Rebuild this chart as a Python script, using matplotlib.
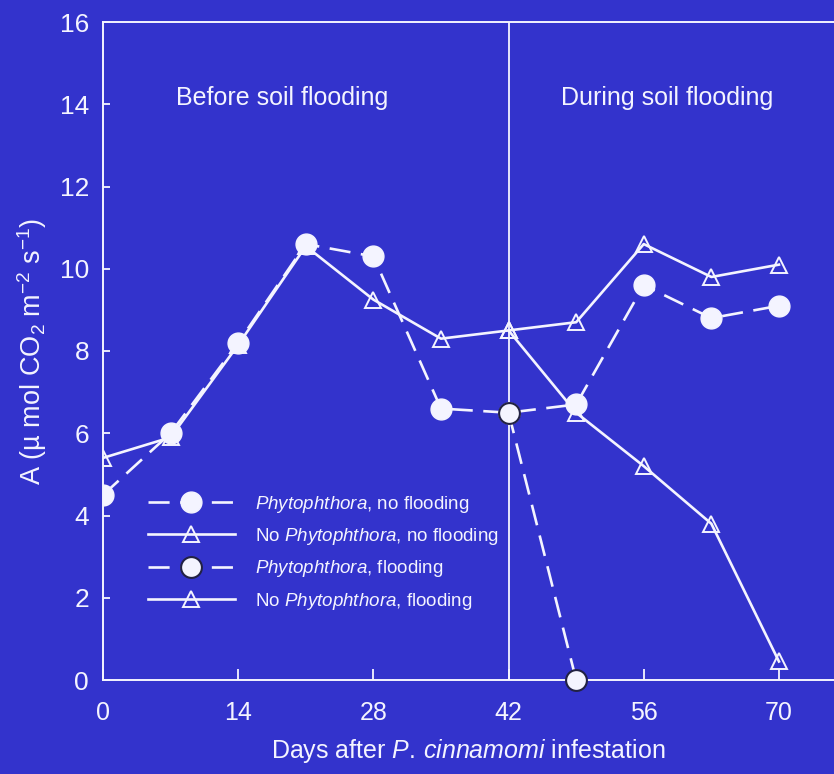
import matplotlib
matplotlib.use("Agg")
import matplotlib.pyplot as plt

# Net photosynthesis (A) over time, sampled weekly
days = [0, 7, 14, 21, 28, 35, 42, 49, 56, 63, 70]
phyto_noflood = [4.5, 6.0, 8.2, 10.6, 10.3, 6.6, 6.5, 6.7, 9.6, 8.8, 9.1]
nophyto_noflood = [5.4, 5.9, 8.15, 10.55, 9.25, 8.3, 8.5, 8.7, 10.6, 9.8, 10.1]

flood_days = [42, 49, 56, 63, 70]
phyto_flood = [6.5, 0.0]
nophyto_flood = [8.5, 6.5, 5.2, 3.8, 0.45]

xticks = [0, 14, 28, 42, 56, 70]
yticks = [0, 2, 4, 6, 8, 10, 12, 14, 16]

bg = "#3333CC"
fg = "#F4F4FF"

plt.rcParams["font.family"] = ["Liberation Sans", "DejaVu Sans"]
plt.rcParams["mathtext.fontset"] = "custom"
plt.rcParams["mathtext.rm"] = "Liberation Sans"
plt.rcParams["mathtext.it"] = "Liberation Sans:italic"
plt.rcParams["mathtext.bf"] = "Liberation Sans:bold"

fig = plt.figure(figsize=(8.34, 7.74), dpi=100, facecolor=bg)
ax = fig.add_axes([103 / 834, 94 / 774, 1 - 103 / 834, 658 / 774])
ax.set_facecolor(bg)

lw = 1.9
dash = (8, 4)

ax.axvline(42, color=fg, lw=1.3, zorder=1)

ax.plot(days, nophyto_noflood, color=fg, lw=lw, marker="^", ms=12,
        mfc="none", mec=fg, mew=1.4, zorder=3,
        label="No $\\mathit{Phytophthora}$, no flooding")
ax.plot(flood_days, nophyto_flood, color=fg, lw=lw, marker="^", ms=12,
        mfc="none", mec=fg, mew=1.4, zorder=3,
        label="No $\\mathit{Phytophthora}$, flooding")
ax.plot(days, phyto_noflood, color=fg, lw=lw, dashes=dash, marker="o", ms=15,
        mfc=fg, mec=fg, zorder=4,
        label="$\\mathit{Phytophthora}$, no flooding")
ax.plot(flood_days[:len(phyto_flood)], phyto_flood, color=fg, lw=lw, dashes=dash,
        marker="o", ms=15, mfc=fg, mec="#222244", mew=1.5, zorder=5,
        label="$\\mathit{Phytophthora}$, flooding", clip_on=False)

# legend in the original series order
h, l = ax.get_legend_handles_labels()
order = [2, 0, 3, 1]
ax.legend([h[i] for i in order], [l[i] for i in order], loc="upper left",
          bbox_to_anchor=(0.062, 0.283), frameon=False, fontsize=13.5,
          labelcolor=fg, handlelength=4.6, handletextpad=1.1,
          labelspacing=0.6, borderpad=0, borderaxespad=0)

ax.text(18.6, 14.15, "Before soil flooding", color=fg, fontsize=18,
        ha="center", va="center")
ax.text(58.4, 14.15, "During soil flooding", color=fg, fontsize=18,
        ha="center", va="center")

ax.set_xlim(0, 75.7)
ax.set_ylim(0, 16)
ax.set_xticks(xticks)
ax.set_yticks(yticks)

for side in ["left", "bottom", "top"]:
    ax.spines[side].set_color(fg)
    ax.spines[side].set_linewidth(1.4)
ax.spines["right"].set_visible(False)

ax.tick_params(axis="x", direction="in", length=8, width=1.3, colors=fg,
               labelsize=18, pad=15)
ax.tick_params(axis="y", direction="in", length=5, width=1.3, colors=fg,
               labelsize=19, pad=10)

ax.set_xlabel("Days after $\\mathit{P.\\,cinnamomi}$ infestation",
              color=fg, fontsize=18, labelpad=9)
ax.set_ylabel("A (µ mol CO$_2$ m$^{-2}$ s$^{-1}$)", color=fg,
              fontsize=19.5, labelpad=8)

fig.savefig("out.png", dpi=100, facecolor=bg)
